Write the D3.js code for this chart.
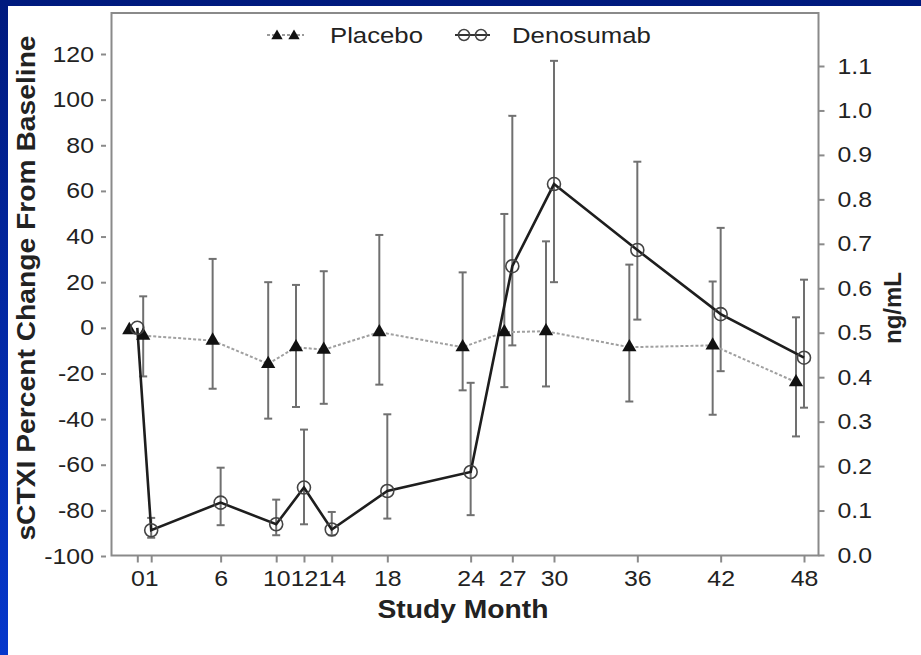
<!DOCTYPE html>
<html><head><meta charset="utf-8">
<script src="https://cdn.jsdelivr.net/npm/d3@7"></script>
<style>
html,body{margin:0;padding:0;}
body{width:921px;height:655px;overflow:hidden;background:linear-gradient(#001a7e,#0638cc);}
svg text{font-family:"Liberation Sans",Arial,sans-serif;fill:#222;}
.wide{transform-box:fill-box;transform:scaleX(1.13);}
.wider{transform-box:fill-box;transform:scaleX(1.17);}
.wr{transform-origin:right center;}
.wl{transform-origin:left center;}
.wc{transform-origin:center center;}
</style></head>
<body>
<svg id="chart" width="921" height="655"></svg>
<script>
// ---- data ----
const months = [0, 1, 6, 10, 12, 14, 18, 24, 27, 30, 36, 42, 48];
const placeboMean  = [-1, -3.4, -5.6, -15.8, -8.5, -9.6, -1.9, -8.5, -1.9, -1.5, -8.5, -7.7, -23.8];
const placeboUpper = [null, 13.8, 30.2, 20, 18.8, 24.8, 40.7, 24.3, 49.9, 37.9, 27.7, 20.3, 4.6];
const placeboLower = [null, -21.3, -26.7, -39.8, -34.7, -33.3, -24.9, -27.4, -26, -25.7, -32.3, -38.1, -47.6];
const denosumabMean  = [0, -88.7, -76.6, -86.1, -70, -88.4, -71.5, -63.2, 27, 63, 34.1, 6, -13.1];
const denosumabUpper = [null, -83.3, -61.3, -75.3, -44.6, -80.7, -37.9, -24.1, 92.9, 117, 72.8, 43.8, 21.1];
const denosumabLower = [null, -92, -86.5, -90.9, -86.1, -90.9, -83.6, -82.1, -7.7, 20, 3.6, -19, -35];
const leftTicks  = [-100, -80, -60, -40, -20, 0, 20, 40, 60, 80, 100, 120];
const rightTicks = [0, 0.1, 0.2, 0.3, 0.4, 0.5, 0.6, 0.7, 0.8, 0.9, 1.0, 1.1];
const seriesNames = ["Placebo", "Denosumab"];
const xTitle = "Study Month";
const yTitle = "sCTXI Percent Change From Baseline";
const y2Title = "ng/mL";

// ---- layout ----
const svg = d3.select("#chart");
const L = 111.5, R = 818.5, T = 13, B = 555.5;
svg.append("rect").attr("x", 8).attr("y", 6).attr("width", 913).attr("height", 649).attr("fill", "#fff");

const x = d3.scaleLinear().domain([0, 48]).range([137.3, 804]);
const y = d3.scaleLinear().domain([-100, 120]).range([556, 54]);
const y2 = d3.scaleLinear().domain([0, 1.1]).range([555, 66]);
const dodgeP = -8; // placebo drawn slightly left of denosumab

const axisColor = "#8a8a8a";

// frame
svg.append("rect").attr("x", L).attr("y", T).attr("width", R - L).attr("height", B - T)
  .attr("fill", "none").attr("stroke", axisColor).attr("stroke-width", 2);

// axes
const fmtInt = d => String(d);
const gl = svg.append("g").attr("transform", `translate(106,0)`)
  .call(d3.axisLeft(y).tickValues(leftTicks).tickSize(5).tickPadding(7).tickFormat(fmtInt));
const gr = svg.append("g").attr("transform", `translate(${R},0)`)
  .call(d3.axisRight(y2).tickValues(rightTicks).tickSize(6).tickPadding(13).tickFormat(d => d.toFixed(1)));
const gb = svg.append("g").attr("transform", `translate(0,${B})`)
  .call(d3.axisBottom(x).tickValues(months).tickSize(7).tickPadding(8).tickFormat(fmtInt));
[gl, gr, gb].forEach(g => {
  g.select(".domain").remove();
  g.selectAll(".tick line").attr("stroke", axisColor).attr("stroke-width", 2);
  g.selectAll(".tick text").attr("font-size", 22).attr("fill", "#262626");
});
gl.selectAll(".tick text").attr("class", "wide wr");
gr.selectAll(".tick text").attr("class", "wide wl");
gb.selectAll(".tick text").attr("class", "wide wc");

// error bars
const errColor = "#707070";
function errorBars(mean, up, lo, dx) {
  const g = svg.append("g").attr("stroke", errColor).attr("stroke-width", 2);
  months.forEach((m, i) => {
    if (up[i] == null) return;
    const cx = x(m) + dx;
    g.append("line").attr("x1", cx).attr("x2", cx).attr("y1", y(up[i])).attr("y2", y(lo[i]));
    [up[i], lo[i]].forEach(v => g.append("line").attr("x1", cx - 4).attr("x2", cx + 4).attr("y1", y(v)).attr("y2", y(v)));
  });
}
errorBars(placeboMean, placeboUpper, placeboLower, dodgeP);
errorBars(denosumabMean, denosumabUpper, denosumabLower, 0);

// lines
const lineP = d3.line().x((d, i) => x(months[i]) + dodgeP).y(d => y(d));
const lineD = d3.line().x((d, i) => x(months[i])).y(d => y(d));
svg.append("path").attr("d", lineP(placeboMean)).attr("fill", "none")
  .attr("stroke", "#a0a0a0").attr("stroke-width", 2).attr("stroke-dasharray", "3,2");
svg.append("path").attr("d", lineD(denosumabMean)).attr("fill", "none")
  .attr("stroke", "#1e1e1e").attr("stroke-width", 2.6);

// markers
const tri = d3.symbol().type(d3.symbolTriangle).size(88);
svg.append("g").selectAll("path").data(placeboMean).join("path")
  .attr("d", tri).attr("fill", "#111")
  .attr("transform", (d, i) => `translate(${x(months[i]) + dodgeP},${y(d)})`);
svg.append("g").selectAll("circle").data(denosumabMean).join("circle")
  .attr("cx", (d, i) => x(months[i])).attr("cy", d => y(d)).attr("r", 6.5)
  .attr("fill", "none").attr("stroke", "#444").attr("stroke-width", 1.6);

// legend
const lg = svg.append("g");
const ly = 35;
lg.append("line").attr("x1", 267).attr("x2", 304).attr("y1", ly).attr("y2", ly)
  .attr("stroke", "#9a9a9a").attr("stroke-width", 2).attr("stroke-dasharray", "3,2");
[277, 294].forEach(cx => lg.append("path").attr("d", d3.symbol().type(d3.symbolTriangle).size(56)())
  .attr("transform", `translate(${cx},${ly + 1})`).attr("fill", "#111"));
lg.append("text").attr("x", 330).attr("y", 43).attr("font-size", 22).attr("class", "wider wl").text(seriesNames[0]);
lg.append("line").attr("x1", 455).attr("x2", 490).attr("y1", ly).attr("y2", ly)
  .attr("stroke", "#333").attr("stroke-width", 2);
[464, 481].forEach(cx => lg.append("circle").attr("cx", cx).attr("cy", ly).attr("r", 5.5)
  .attr("fill", "none").attr("stroke", "#444").attr("stroke-width", 1.5));
lg.append("text").attr("x", 512).attr("y", 43).attr("font-size", 22).attr("class", "wider wl").text(seriesNames[1]);

// titles
svg.append("text").attr("x", 463).attr("y", 618).attr("text-anchor", "middle")
  .attr("font-size", 25).attr("font-weight", "bold").attr("class", "wide wc").text(xTitle);
svg.append("g").attr("transform", "translate(35,288) rotate(-90)")
  .append("text").attr("text-anchor", "middle").attr("font-size", 25).attr("font-weight", "bold")
  .attr("class", "wide wc").text(yTitle);
svg.append("g").attr("transform", "translate(901,308) rotate(-90)")
  .append("text").attr("text-anchor", "middle").attr("font-size", 24).attr("font-weight", "bold")
  .text(y2Title);
</script>
</body></html>
